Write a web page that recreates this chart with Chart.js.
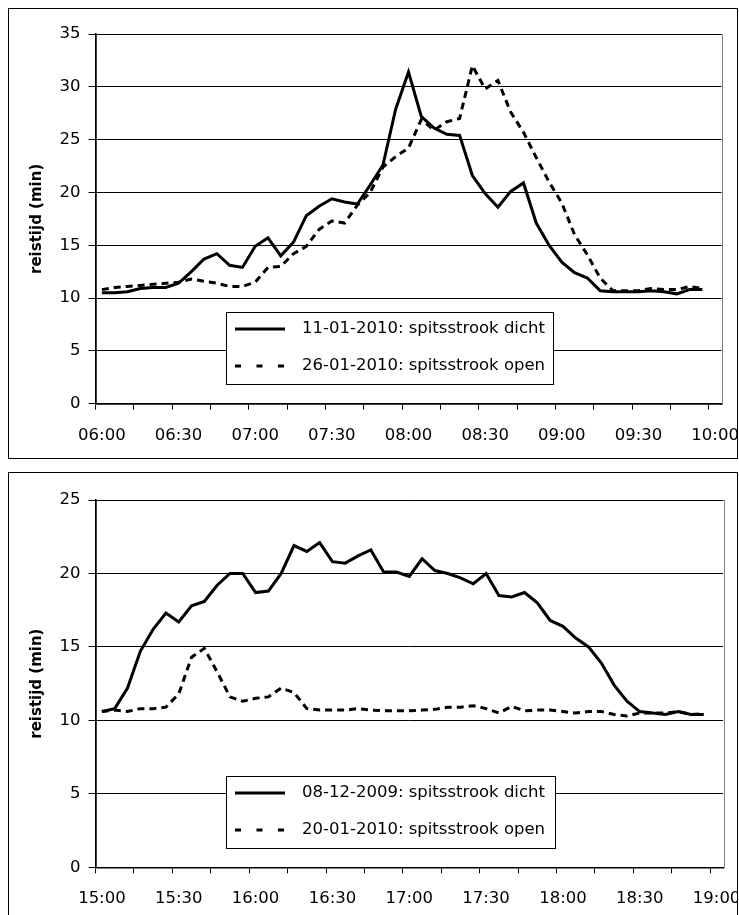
<!DOCTYPE html>
<html>
<head>
<meta charset="utf-8">
<script src="https://cdn.jsdelivr.net/npm/chart.js@4.4.1/dist/chart.umd.min.js"></script>
<style>
    html, body { margin: 0; padding: 0; background: #fff; }
    body { width: 739px; height: 915px; position: relative; overflow: hidden; }
    .kader { position: absolute; left: 8px; width: 730px; height: 451px; border: 1px solid #000; box-sizing: border-box; background: #fff; }
    .kader canvas { position: absolute; left: 0; top: 0; }
</style>
</head>
<body>
<div class="kader" style="top:8px"><canvas id="ochtendChart" width="728" height="449"></canvas></div>
<div class="kader" style="top:472px"><canvas id="avondChart" width="728" height="449"></canvas></div>

<script>
// tijdstippen (5 minuten), ochtendspits en avondspits
const ochtendTijden = [
    '06:00','06:05','06:10','06:15','06:20','06:25','06:30','06:35','06:40','06:45','06:50','06:55',
    '07:00','07:05','07:10','07:15','07:20','07:25','07:30','07:35','07:40','07:45','07:50','07:55',
    '08:00','08:05','08:10','08:15','08:20','08:25','08:30','08:35','08:40','08:45','08:50','08:55',
    '09:00','09:05','09:10','09:15','09:20','09:25','09:30','09:35','09:40','09:45','09:50','09:55',
    '10:00'
];
const avondTijden = [
    '15:00','15:05','15:10','15:15','15:20','15:25','15:30','15:35','15:40','15:45','15:50','15:55',
    '16:00','16:05','16:10','16:15','16:20','16:25','16:30','16:35','16:40','16:45','16:50','16:55',
    '17:00','17:05','17:10','17:15','17:20','17:25','17:30','17:35','17:40','17:45','17:50','17:55',
    '18:00','18:05','18:10','18:15','18:20','18:25','18:30','18:35','18:40','18:45','18:50','18:55',
    '19:00'
];

// reistijd (min)
const ochtendDicht = [
    10.5, 10.5, 10.6, 10.9, 11.0, 11.0, 11.4, 12.5, 13.7, 14.2, 13.1, 12.9,
    14.9, 15.7, 14.0, 15.3, 17.8, 18.7, 19.4, 19.1, 18.9, 20.7, 22.6, 27.9,
    31.4, 27.2, 26.1, 25.5, 25.4, 21.6, 19.9, 18.6, 20.1, 20.9, 17.1, 15.0,
    13.4, 12.4, 11.9, 10.7, 10.6, 10.6, 10.6, 10.7, 10.6, 10.4, 10.8, 10.8
];
const ochtendOpen = [
    10.8, 11.0, 11.1, 11.2, 11.3, 11.4, 11.5, 11.8, 11.6, 11.4, 11.1, 11.1,
    11.5, 12.9, 13.0, 14.2, 14.9, 16.5, 17.3, 17.1, 18.8, 20.0, 22.4, 23.4,
    24.2, 26.9, 25.9, 26.7, 27.0, 32.0, 29.8, 30.6, 27.6, 25.7, 23.3, 21.0,
    19.0, 16.0, 14.1, 11.9, 10.7, 10.7, 10.7, 10.9, 10.8, 10.8, 11.1, 10.9
];
const avondDicht = [
    10.6, 10.8, 12.2, 14.7, 16.2, 17.3, 16.7, 17.8, 18.1, 19.2, 20.0, 20.0,
    18.7, 18.8, 20.0, 21.9, 21.5, 22.1, 20.8, 20.7, 21.2, 21.6, 20.1, 20.1,
    19.8, 21.0, 20.2, 20.0, 19.7, 19.3, 20.0, 18.5, 18.4, 18.7, 18.0, 16.8,
    16.4, 15.6, 15.0, 13.9, 12.4, 11.3, 10.6, 10.5, 10.4, 10.6, 10.4, 10.4
];
const avondOpen = [
    10.6, 10.7, 10.6, 10.8, 10.8, 10.9, 11.8, 14.3, 14.9, 13.3, 11.6, 11.3,
    11.5, 11.6, 12.2, 11.9, 10.8, 10.7, 10.7, 10.7, 10.8, 10.7, 10.65, 10.65,
    10.65, 10.7, 10.75, 10.9, 10.9, 11.0, 10.8, 10.5, 10.95, 10.65, 10.7, 10.7,
    10.6, 10.5, 10.6, 10.6, 10.4, 10.3, 10.5, 10.5, 10.5, 10.6, 10.4, 10.45
];

const FONT = "'DejaVu Sans', sans-serif";
Chart.defaults.font.family = FONT;
Chart.defaults.color = '#000';

// grijze rand om het plotgebied
const plotRand = {
    id: 'plotRand',
    beforeDraw(chart) {
        const a = chart.chartArea;
        const ctx = chart.ctx;
        ctx.save();
        ctx.strokeStyle = '#808080';
        ctx.lineWidth = 1;
        ctx.strokeRect(Math.round(a.left) + 0.5, Math.round(a.top) + 0.5,
            Math.round(a.right - a.left), Math.round(a.bottom - a.top));
        ctx.restore();
    }
};

// legenda in een kader binnen het plotgebied
const kaderLegenda = {
    id: 'kaderLegenda',
    afterDatasetsDraw(chart, args, opts) {
        const ctx = chart.ctx;
        ctx.save();
        ctx.fillStyle = '#fff';
        ctx.fillRect(opts.x, opts.y, opts.w, opts.h);
        ctx.strokeStyle = '#000';
        ctx.lineWidth = 1;
        ctx.strokeRect(opts.x + 0.5, opts.y + 0.5, opts.w, opts.h);

        chart.data.datasets.forEach((ds, i) => {
            const y = opts.y + opts.rows[i];
            ctx.beginPath();
            ctx.setLineDash(i === 0 ? [] : [6, 15.5]);
            ctx.lineWidth = 3;
            ctx.strokeStyle = '#000';
            ctx.moveTo(opts.x + 9, y);
            ctx.lineTo(opts.x + 59, y);
            ctx.stroke();
            ctx.setLineDash([]);
            ctx.fillStyle = '#000';
            ctx.font = '16.5px ' + FONT;
            ctx.textBaseline = 'middle';
            ctx.textAlign = 'left';
            ctx.fillText(ds.label, opts.x + 76, y);
        });
        ctx.restore();
    }
};

function createChart(canvasId, labels, dicht, open, labelDicht, labelOpen, yMax, maat) {
    const canvas = document.getElementById(canvasId);
    if (!canvas) return;
    const ctx = canvas.getContext('2d');

    return new Chart(ctx, {
        type: 'line',
        data: {
            labels: labels,
            datasets: [{
                label: labelDicht,
                data: dicht,
                borderColor: '#000',
                borderWidth: 3,
                pointRadius: 0,
                tension: 0,
                fill: false
            }, {
                label: labelOpen,
                data: open,
                borderColor: '#000',
                borderWidth: 3,
                borderDash: [7, 5],
                pointRadius: 0,
                tension: 0,
                fill: false
            }]
        },
        options: {
            responsive: false,
            animation: false,
            layout: { padding: { left: 0, top: maat.top, right: maat.right, bottom: 0 } },
            plugins: {
                legend: { display: false },
                tooltip: { enabled: false },
                kaderLegenda: { x: 217, y: 303, w: maat.legW, h: 72, rows: [17, 54] }
            },
            scales: {
                x: {
                    type: 'category',
                    offset: true,
                    grid: {
                        offset: true,
                        drawOnChartArea: false,
                        drawTicks: true,
                        tickLength: 6,
                        lineWidth: 1,
                        color: c => (c.index % 3 === 0 ? '#000' : 'rgba(0,0,0,0)')
                    },
                    border: { display: true, color: '#000', width: 1.5 },
                    ticks: {
                        autoSkip: false,
                        maxRotation: 0,
                        minRotation: 0,
                        padding: 16,
                        color: '#000',
                        font: { size: 16.5 },
                        callback: function(value, index) {
                            return index % 6 === 0 ? this.getLabelForValue(value) : '';
                        }
                    },
                    afterFit: s => { s.height = maat.xHeight; s.paddingLeft = 0; s.paddingRight = 0; }
                },
                y: {
                    min: 0,
                    max: yMax,
                    ticks: { stepSize: 5, padding: 8, color: '#000', font: { size: 16.5 } },
                    grid: { color: '#000', lineWidth: 1, tickLength: 7 },
                    border: { display: true, color: '#000', width: 1.5 },
                    title: {
                        display: true,
                        text: 'reistijd (min)',
                        color: '#000',
                        font: { size: 15, weight: 'bold' },
                        padding: { top: 19, bottom: 0 }
                    },
                    afterFit: s => { s.width = 86.5; s.paddingTop = 0; s.paddingBottom = 0; }
                }
            }
        },
        plugins: [plotRand, kaderLegenda]
    });
}

createChart('ochtendChart', ochtendTijden, ochtendDicht, ochtendOpen,
    '11-01-2010: spitsstrook dicht', '26-01-2010: spitsstrook open', 35,
    { top: 25, right: 15.5, xHeight: 54.3, legW: 327 });

createChart('avondChart', avondTijden, avondDicht, avondOpen,
    '08-12-2009: spitsstrook dicht', '20-01-2010: spitsstrook open', 25,
    { top: 27, right: 14, xHeight: 54.7, legW: 329 });
</script>
</body>
</html>
